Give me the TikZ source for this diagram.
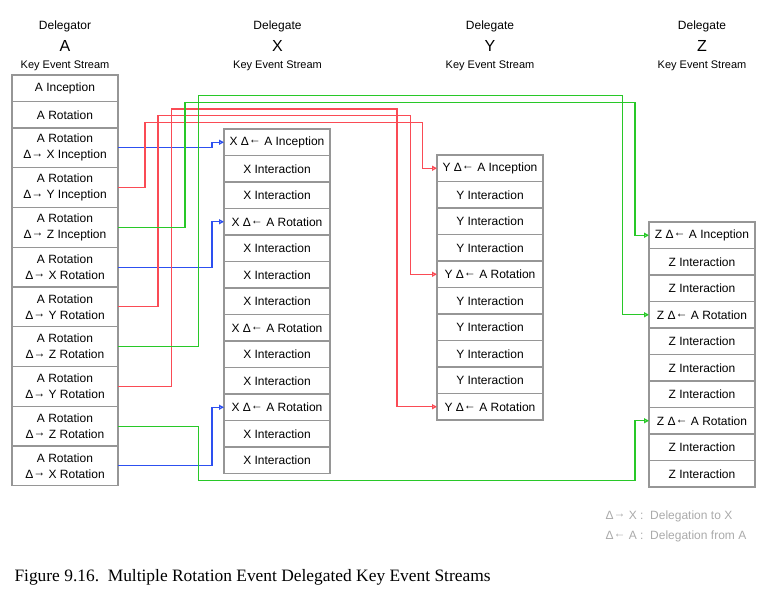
\documentclass[tikz,border=0pt]{standalone}
\usepackage{fontspec}
\setmainfont{Liberation Sans}
\newfontfamily\captionserif{Liberation Serif}
\usetikzlibrary{arrows.meta, positioning}

% Define custom colours
\definecolor{lineRed}{RGB}{250,75,85}
\definecolor{lineGreen}{RGB}{40,200,40}
\definecolor{lineBlue}{RGB}{45,80,240}
\definecolor{cellEdge}{RGB}{150,150,150}
\definecolor{legendGray}{RGB}{170,170,170}

% Delegation marks (arrow lifted to the middle of the Delta)
\newcommand{\delto}{Δ\raisebox{1.6pt}{→}}
\newcommand{\delfrom}{Δ\raisebox{1.6pt}{←}}

\begin{document}
\begin{tikzpicture}[
    x=1pt, y=-1pt,
    node distance=0pt,
    font=\fontsize{12}{16}\selectfont,
    % --- Style Definitions ---
    cell/.style={
        rectangle, draw=cellEdge, line width=1.2pt, fill=white,
        minimum width=106pt, minimum height=26.5pt,
        inner sep=0pt, outer sep=0pt, align=center
    },
    tallcell/.style={cell, minimum height=39.75pt},
    hdrtitle/.style={anchor=base, font=\fontsize{12}{14}\selectfont},
    hdrletter/.style={anchor=base, font=\fontsize{16}{18}\selectfont},
    hdrsub/.style={anchor=base, font=\fontsize{11}{13}\selectfont},
    link/.style={
        -{Triangle[open, length=5pt, width=5pt]},
        line width=1.2pt, color=#1
    },
    legendtext/.style={anchor=west, text=legendGray, font=\fontsize{12}{14}\selectfont}
]
\useasboundingbox (0,0) rectangle (779,592);

% ================= Headers =================
\node[hdrtitle] (titleA) at (65,29.5) {Delegator};
\node[hdrletter] (letterA) at (65,51.5) {A};
\node[hdrsub] (subA) at (65,68) {Key Event Stream};

\node[hdrtitle] (titleX) at (277.5,29.5) {Delegate};
\node[hdrletter] (letterX) at (277.5,51.5) {X};
\node[hdrsub] (subX) at (277.5,68) {Key Event Stream};

\node[hdrtitle] (titleY) at (490,29.5) {Delegate};
\node[hdrletter] (letterY) at (490,51.5) {Y};
\node[hdrsub] (subY) at (490,68) {Key Event Stream};

\node[hdrtitle] (titleZ) at (702,29.5) {Delegate};
\node[hdrletter] (letterZ) at (702,51.5) {Z};
\node[hdrsub] (subZ) at (702,68) {Key Event Stream};

% ================= Delegator A =================
\node[cell, anchor=north west] (aInc) at (12,75) {A Inception};
\node[cell, below=of aInc] (aRot) {A Rotation};
\node[tallcell, below=of aRot] (aToXInc) {A Rotation\\\delto{} X Inception};
\node[tallcell, below=of aToXInc] (aToYInc) {A Rotation\\\delto{} Y Inception};
\node[tallcell, below=of aToYInc] (aToZInc) {A Rotation\\\delto{} Z Inception};
\node[tallcell, below=of aToZInc] (aToXRot1) {A Rotation\\\delto{} X Rotation};
\node[tallcell, below=of aToXRot1] (aToYRot1) {A Rotation\\\delto{} Y Rotation};
\node[tallcell, below=of aToYRot1] (aToZRot1) {A Rotation\\\delto{} Z Rotation};
\node[tallcell, below=of aToZRot1] (aToYRot2) {A Rotation\\\delto{} Y Rotation};
\node[tallcell, below=of aToYRot2] (aToZRot2) {A Rotation\\\delto{} Z Rotation};
\node[tallcell, below=of aToZRot2] (aToXRot2) {A Rotation\\\delto{} X Rotation};

% ================= Delegate X =================
\node[cell, anchor=north west] (xInc) at (224,129) {X \delfrom{} A Inception};
\node[cell, below=of xInc] (xInt1) {X Interaction};
\node[cell, below=of xInt1] (xInt2) {X Interaction};
\node[cell, below=of xInt2] (xRot1) {X \delfrom{} A Rotation};
\node[cell, below=of xRot1] (xInt3) {X Interaction};
\node[cell, below=of xInt3] (xInt4) {X Interaction};
\node[cell, below=of xInt4] (xInt5) {X Interaction};
\node[cell, below=of xInt5] (xRot2) {X \delfrom{} A Rotation};
\node[cell, below=of xRot2] (xInt6) {X Interaction};
\node[cell, below=of xInt6] (xInt7) {X Interaction};
\node[cell, below=of xInt7] (xRot3) {X \delfrom{} A Rotation};
\node[cell, below=of xRot3] (xInt8) {X Interaction};
\node[cell, below=of xInt8] (xInt9) {X Interaction};

% ================= Delegate Y =================
\node[cell, anchor=north west] (yInc) at (437,155) {Y \delfrom{} A Inception};
\node[cell, below=of yInc] (yInt1) {Y Interaction};
\node[cell, below=of yInt1] (yInt2) {Y Interaction};
\node[cell, below=of yInt2] (yInt3) {Y Interaction};
\node[cell, below=of yInt3] (yRot1) {Y \delfrom{} A Rotation};
\node[cell, below=of yRot1] (yInt4) {Y Interaction};
\node[cell, below=of yInt4] (yInt5) {Y Interaction};
\node[cell, below=of yInt5] (yInt6) {Y Interaction};
\node[cell, below=of yInt6] (yInt7) {Y Interaction};
\node[cell, below=of yInt7] (yRot2) {Y \delfrom{} A Rotation};

% ================= Delegate Z =================
\node[cell, anchor=north west] (zInc) at (649,222) {Z \delfrom{} A Inception};
\node[cell, below=of zInc] (zInt1) {Z Interaction};
\node[cell, below=of zInt1] (zInt2) {Z Interaction};
\node[cell, below=of zInt2] (zRot1) {Z \delfrom{} A Rotation};
\node[cell, below=of zRot1] (zInt3) {Z Interaction};
\node[cell, below=of zInt3] (zInt4) {Z Interaction};
\node[cell, below=of zInt4] (zInt5) {Z Interaction};
\node[cell, below=of zInt5] (zRot2) {Z \delfrom{} A Rotation};
\node[cell, below=of zRot2] (zInt6) {Z Interaction};
\node[cell, below=of zInt6] (zInt7) {Z Interaction};

% ================= Delegation Links =================
% To X (short hop into the X column)
\draw[link=lineBlue] (aToXInc.east) -| ([xshift=-12pt]xInc.west) -- (xInc.west);
\draw[link=lineBlue] (aToXRot1.east) -| ([xshift=-12pt]xRot1.west) -- (xRot1.west);
\draw[link=lineBlue] (aToXRot2.east) -| ([xshift=-12pt]xRot3.west) -- (xRot3.west);

% To Y (up over the X column, then down)
\draw[link=lineRed] (aToYInc.east) -| (145,122.7) -| ([xshift=-14.3pt]yInc.west) -- (yInc.west);
\draw[link=lineRed] (aToYRot1.east) -| (158,115.7) -| ([xshift=-26.3pt]yRot1.west) -- (yRot1.west);
\draw[link=lineRed] (aToYRot2.east) -| (171.7,109) -| ([xshift=-40pt]yRot2.west) -- (yRot2.west);

% To Z (over the top, last one under the bottom)
\draw[link=lineGreen] (aToZInc.east) -| (185,102.3) -| ([xshift=-14pt]zInc.west) -- (zInc.west);
\draw[link=lineGreen] (aToZRot1.east) -| (198.3,95.7) -| ([xshift=-26.3pt]zRot1.west) -- (zRot1.west);
\draw[link=lineGreen] (aToZRot2.east) -| (198.3,480.7) -| ([xshift=-14pt]zRot2.west) -- (zRot2.west);

% ================= Legend & Caption =================
\node[legendtext] (keyTo) at (602,516) {\delto{} X :\ \ Delegation to X};
\node[legendtext] (keyFrom) at (602,536) {\delfrom{} A :\ \ Delegation from A};

\node[anchor=base west, font=\captionserif\fontsize{17.4}{20}\selectfont] (caption) at (11,581)
    {Figure 9.16.\ \ Multiple Rotation Event Delegated Key Event Streams};

\end{tikzpicture}
\end{document}
